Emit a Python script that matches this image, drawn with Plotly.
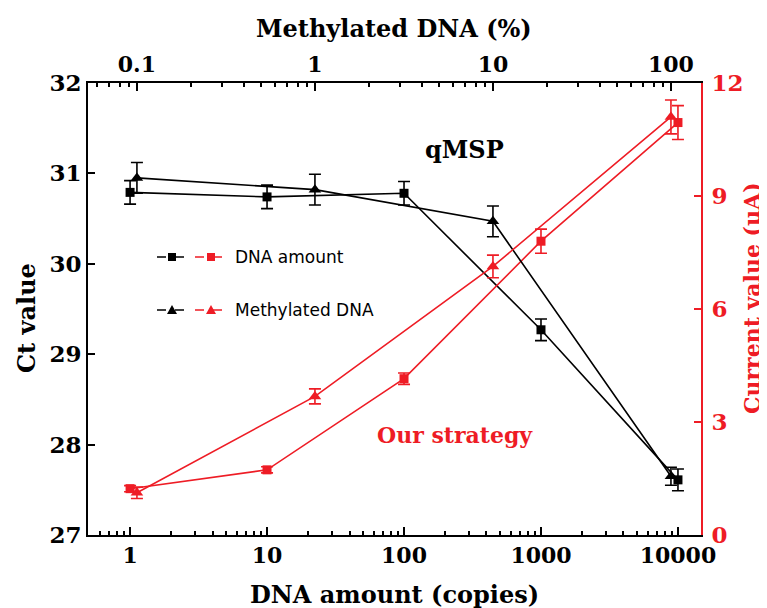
import plotly.graph_objects as go
import math

# ---------------- data ----------------
copies = [1, 10, 100, 1000, 10000]
ct_dna = [30.79, 30.74, 30.78, 29.27, 27.61]
ct_dna_err = [0.13, 0.13, 0.13, 0.12, 0.12]

methyl_pct = [0.1, 1, 10, 100]
ct_meth = [30.95, 30.82, 30.47, 27.65]
ct_meth_err = [0.17, 0.17, 0.17, 0.10]

cur_dna = [1.23, 1.73, 4.15, 7.80, 10.95]
cur_dna_err = [0.08, 0.08, 0.15, 0.32, 0.45]

cur_meth = [1.12, 3.68, 7.13, 11.10]
cur_meth_err = [0.15, 0.20, 0.30, 0.45]

copies_ticks = [1, 10, 100, 1000, 10000]
pct_ticks = [0.1, 1, 10, 100]
ct_ticks = [27, 28, 29, 30, 31, 32]
cur_ticks = [0, 3, 6, 9, 12]

# ---------------- layout geometry ----------------
W, H = 767, 608
L, R, T, B = 80, 693, 75, 527
RED = "#ee1c25"
SERIF = "DejaVu Serif"
SANS = "DejaVu Sans"


def pxx(x):
    return (x - L) / (R - L)


def pxy(y):
    return (B - y) / (B - T)


def minors(lo, hi):
    out = []
    d = lo
    while d <= hi:
        for m in range(2, 10):
            out.append(m * d)
        d *= 10
    return out


copies_minor = [v for v in minors(0.1, 10000) if 0.55 < v < 14000 and v not in copies_ticks]
pct_minor = [v for v in minors(0.01, 100) if 0.055 < v < 145 and v not in pct_ticks]

fig = go.Figure()

lw = 1.6
fig.add_trace(go.Scatter(
    x=copies, y=ct_dna, xaxis="x", yaxis="y", mode="lines+markers",
    line=dict(color="black", width=lw),
    marker=dict(symbol="square", size=9, color="black"),
    error_y=dict(type="data", array=ct_dna_err, color="black", thickness=1.6, width=6),
    showlegend=False))
fig.add_trace(go.Scatter(
    x=methyl_pct, y=ct_meth, xaxis="x2", yaxis="y", mode="lines+markers",
    line=dict(color="black", width=lw),
    marker=dict(symbol="triangle-up", size=11, color="black"),
    error_y=dict(type="data", array=ct_meth_err, color="black", thickness=1.6, width=6),
    showlegend=False))
fig.add_trace(go.Scatter(
    x=copies, y=cur_dna, xaxis="x", yaxis="y2", mode="lines+markers",
    line=dict(color=RED, width=lw),
    marker=dict(symbol="square", size=9, color=RED),
    error_y=dict(type="data", array=cur_dna_err, color=RED, thickness=1.6, width=6),
    showlegend=False))
fig.add_trace(go.Scatter(
    x=methyl_pct, y=cur_meth, xaxis="x2", yaxis="y2", mode="lines+markers",
    line=dict(color=RED, width=lw),
    marker=dict(symbol="triangle-up", size=11, color=RED),
    error_y=dict(type="data", array=cur_meth_err, color=RED, thickness=1.6, width=6),
    showlegend=False))

tickfont = dict(family=SERIF, size=23, color="black", weight="bold")
xtickfont = dict(family=SERIF, size=22, color="black", weight="bold")

fig.update_layout(
    width=W, height=H,
    margin=dict(l=L, r=W - R, t=T, b=H - B),
    paper_bgcolor="white", plot_bgcolor="white",
    xaxis=dict(
        type="log", range=[math.log10(0.493), math.log10(14730)],
        tickmode="array", tickvals=copies_ticks, ticktext=[str(v) for v in copies_ticks],
        ticks="inside", ticklen=8, tickwidth=2, tickcolor="black",
        minor=dict(tickmode="array", tickvals=copies_minor, ticks="inside", ticklen=4,
                   tickwidth=1.5, tickcolor="black", showgrid=False),
        showline=True, linecolor="black", linewidth=2, showgrid=False, zeroline=False,
        tickfont=xtickfont, anchor="y",
    ),
    xaxis2=dict(
        type="log", range=[math.log10(0.0531), math.log10(147.5)],
        overlaying="x", side="top", anchor="y",
        tickmode="array", tickvals=pct_ticks, ticktext=["0.1", "1", "10", "100"],
        ticks="inside", ticklen=8, tickwidth=2, tickcolor="black",
        minor=dict(tickmode="array", tickvals=pct_minor, ticks="inside", ticklen=4,
                   tickwidth=1.5, tickcolor="black", showgrid=False),
        showline=True, linecolor="black", linewidth=2, showgrid=False, zeroline=False,
        tickfont=xtickfont,
    ),
    yaxis=dict(
        range=[27, 32], tickmode="array", tickvals=ct_ticks,
        ticks="inside", ticklen=7, tickwidth=2, tickcolor="black",
        showline=True, linecolor="black", linewidth=2, showgrid=False, zeroline=False,
        tickfont=tickfont, anchor="x",
    ),
    yaxis2=dict(
        range=[0, 12], tickmode="array", tickvals=cur_ticks,
        overlaying="y", side="right", anchor="x",
        ticks="inside", ticklen=7, tickwidth=2, tickcolor=RED,
        showline=True, linecolor=RED, linewidth=2, showgrid=False, zeroline=False,
        tickfont=dict(family=SERIF, size=23, color=RED, weight="bold"),
        ticklabelstandoff=4,
    ),
)

titlefont = dict(family=SERIF, size=24, color="black", weight="bold")
anns = [
    dict(text="Methylated DNA (%)", x=pxx(386), y=pxy(20), font=titlefont),
    dict(text="DNA amount (copies)", x=pxx(386), y=pxy(586), font=titlefont),
    dict(text="Ct value", x=pxx(18), y=pxy(310), textangle=-90, font=titlefont),
    dict(text="Current value (μA)", x=pxx(744), y=pxy(290), textangle=-90,
         font=dict(family=SERIF, size=22, color=RED, weight="bold")),
    dict(text="qMSP", x=pxx(456), y=pxy(142), font=dict(family=SERIF, size=24, color="black", weight="bold")),
    dict(text="Our strategy", x=pxx(447), y=pxy(427), font=dict(family=SERIF, size=22, color=RED, weight="bold")),
    dict(text="DNA amount", x=pxx(225), y=pxy(249), xanchor="left",
         font=dict(family=SANS, size=17, color="black")),
    dict(text="Methylated DNA", x=pxx(225), y=pxy(302), xanchor="left",
         font=dict(family=SANS, size=17, color="black")),
]
for a in anns:
    a.setdefault("xanchor", "center")
    fig.add_annotation(xref="paper", yref="paper", showarrow=False, yanchor="middle", **a)

# legend samples (decorative shapes)
shapes = []
for yrow, kind in [(249, "square"), (302, "tri")]:
    for (x0, x1, xc, col) in [(149, 182, 164, "black"), (187, 219, 203, RED)]:
        shapes.append(dict(type="line", xref="paper", yref="paper",
                           x0=pxx(x0), x1=pxx(x1), y0=pxy(yrow), y1=pxy(yrow),
                           line=dict(color=col, width=1.5, dash="dash")))
        if kind == "square":
            shapes.append(dict(type="rect", xref="paper", yref="paper",
                               x0=pxx(xc - 4), x1=pxx(xc + 4), y0=pxy(yrow + 4), y1=pxy(yrow - 4),
                               fillcolor=col, line=dict(color=col, width=0)))
        else:
            path = "M {} {} L {} {} L {} {} Z".format(
                pxx(xc - 5), pxy(yrow + 4), pxx(xc + 5), pxy(yrow + 4), pxx(xc), pxy(yrow - 5))
            shapes.append(dict(type="path", xref="paper", yref="paper", path=path,
                               fillcolor=col, line=dict(color=col, width=0)))
fig.update_layout(shapes=shapes)

fig.write_html("out.html")
